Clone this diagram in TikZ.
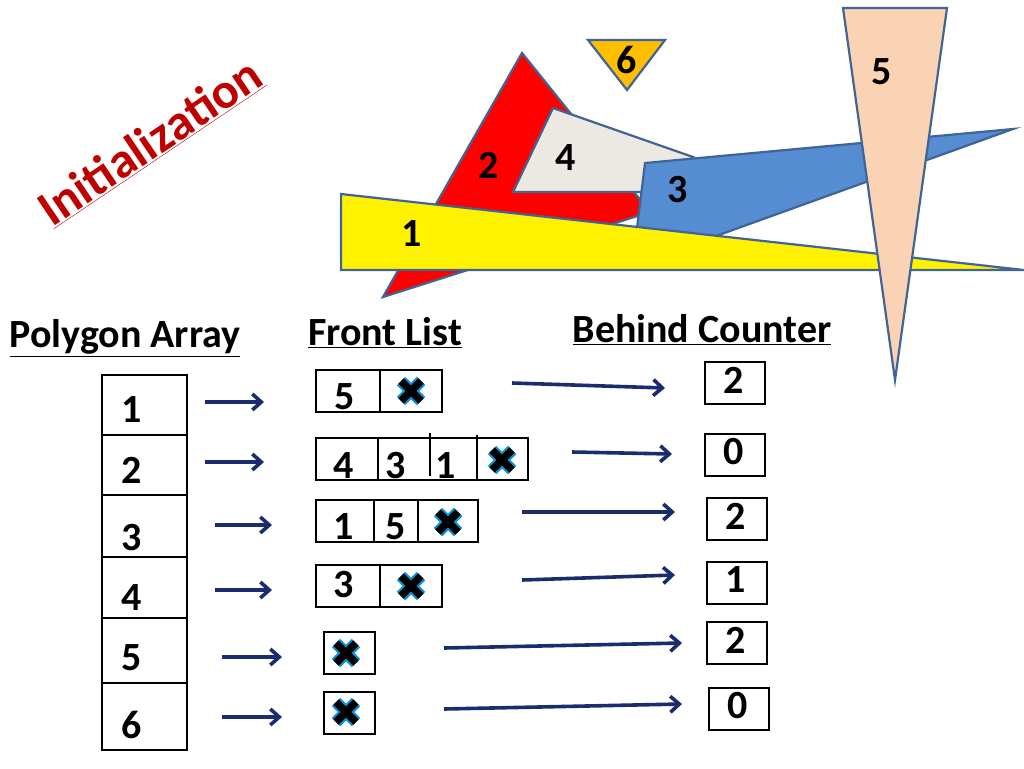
\documentclass[tikz,border=0pt]{standalone}
\usepackage{fontspec}
\setmainfont{Carlito}
\usetikzlibrary{arrows.meta}
\definecolor{edge}{RGB}{65,100,150}
\definecolor{navy}{RGB}{25,45,110}
\definecolor{bluep}{RGB}{85,140,210}
\definecolor{greyp}{RGB}{236,233,226}
\definecolor{peach}{RGB}{250,210,180}
\definecolor{gold}{RGB}{255,190,0}
\begin{document}
\begin{tikzpicture}[x=1pt,y=-1pt,
 poly/.style={draw=edge,line width=2.2pt,line join=miter},
 hdr/.style={font=\bfseries\fontsize{40}{40}\selectfont,inner sep=1pt},
 num/.style={font=\bfseries\fontsize{40}{40}\selectfont},
 pnum/.style={font=\bfseries\fontsize{40}{40}\selectfont},
 cell/.style={draw=black,line width=2.2pt},
 arr/.style={draw=navy,line width=3.6pt,-{Straight Barb[length=9pt,width=16pt]}}]
\useasboundingbox (0,0) rectangle (1024,768);
% polygons
\draw[poly,fill=red] (522,53) -- (383,297) -- (650,212) -- cycle;
\draw[poly,fill=greyp] (553,108) -- (513,192) -- (650,192) -- (693,157) -- cycle;
\draw[poly,fill=bluep] (645,163) -- (1013,129) -- (705,240) -- (637,228) -- cycle;
\draw[poly,fill=yellow] (341,194) -- (341,270) -- (1024,270) -- cycle;
\draw[poly,fill=peach] (843,8) -- (947,8) -- (895,380) -- cycle;
\draw[poly,fill=gold] (588,40) -- (665,40) -- (627,90) -- cycle;
\node[pnum] (p6) at (627,60) {6};
\node[pnum] (p5) at (882,72) {5};
\node[pnum] (p4) at (566,158) {4};
\node[pnum] (p2) at (489,165) {2};
\node[pnum] (p3) at (678,190) {3};
\node[pnum] (p1) at (412,234) {1};
% title
\node[rotate=34,text=red!75!black,font=\bfseries\fontsize{50}{50}\selectfont,inner sep=1pt] (title) at (150,142) {\underline{Initialization}};
% headers
\node[hdr] (ha) at (125,338) {\underline{Polygon Array}};
\node[hdr] (hf) at (385,333) {\underline{Front List}};
\node[hdr] (hb) at (702,330) {\underline{Behind Counter}};
% polygon array
\foreach \a/\b/\t/\ty [count=\i] in {375/435/1/410,435/495/2/470,495/557/3/538,557/618/4/598,618/683/5/658,683/750/6/725}{
 \draw[cell] (102,\a) rectangle (187,\b);
 \node[num] (a\i) at (132,\ty) {\t};
}
% small arrows
\coordinate (s1a) at (205,402); \coordinate (s1b) at (264,402);
\coordinate (s2a) at (205,462); \coordinate (s2b) at (264,462);
\coordinate (s3a) at (215,525); \coordinate (s3b) at (272,525);
\coordinate (s4a) at (215,590); \coordinate (s4b) at (272,590);
\coordinate (s5a) at (222,657); \coordinate (s5b) at (282,657);
\coordinate (s6a) at (222,717); \coordinate (s6b) at (282,717);
\foreach \i in {1,...,6}{\draw[arr] (s\i a) -- (s\i b);}
% front list
\newcommand{\xmark}[2]{%
 \draw[cyan!80!blue,line width=12pt] (#1-10,#2-10) -- (#1+10,#2+10) (#1-10,#2+10) -- (#1+10,#2-10);
 \draw[black,line width=7.5pt] (#1-10,#2-10) -- (#1+10,#2+10) (#1-10,#2+10) -- (#1+10,#2-10);}
\draw[cell] (316,370) rectangle (442,412); \draw[cell] (380,370) -- (380,412);
\node[num] (f1a) at (345,397) {5}; \xmark{411}{391}
\draw[cell] (316,438) rectangle (528,480); \draw[cell] (378,438)--(378,480) (430,433)--(430,476) (477,435)--(477,480);
\node[num] (f2a) at (344,466) {4}; \node[num] (f2b) at (396,466) {3}; \node[num] (f2c) at (446,466) {1}; \xmark{502}{460}
\draw[cell] (316,500) rectangle (478,542); \draw[cell] (374,500)--(374,542) (418,500)--(418,542);
\node[num] (f3a) at (344,527) {1}; \node[num] (f3b) at (396,527) {5}; \xmark{448}{522}
\draw[cell] (316,565) rectangle (442,607); \draw[cell] (380,565) -- (380,607);
\node[num] (f4a) at (344,585) {3}; \xmark{411}{586}
\draw[cell] (324,632) rectangle (375,674); \xmark{346}{653}
\draw[cell] (324,692) rectangle (375,734); \xmark{346}{712}
% long arrows
\coordinate (l1a) at (512,383); \coordinate (l1b) at (665,388);
\coordinate (l2a) at (572,452); \coordinate (l2b) at (672,454);
\coordinate (l3a) at (522,512); \coordinate (l3b) at (675,512);
\coordinate (l4a) at (522,580); \coordinate (l4b) at (675,575);
\coordinate (l5a) at (444,648); \coordinate (l5b) at (682,643);
\coordinate (l6a) at (444,709); \coordinate (l6b) at (682,704);
\foreach \i in {1,...,6}{\draw[arr] (l\i a) -- (l\i b);}
% counters
\foreach \x/\y/\t [count=\i] in {705/362/2,705/434/0,707/498/2,707/562/1,707/622/2,709/688/0}{
 \draw[cell] (\x,\y) rectangle (\x+60,\y+42);
 \node[num] (c\i) at (\x+29,\y+18) {\t};
}
\end{tikzpicture}
\end{document}
